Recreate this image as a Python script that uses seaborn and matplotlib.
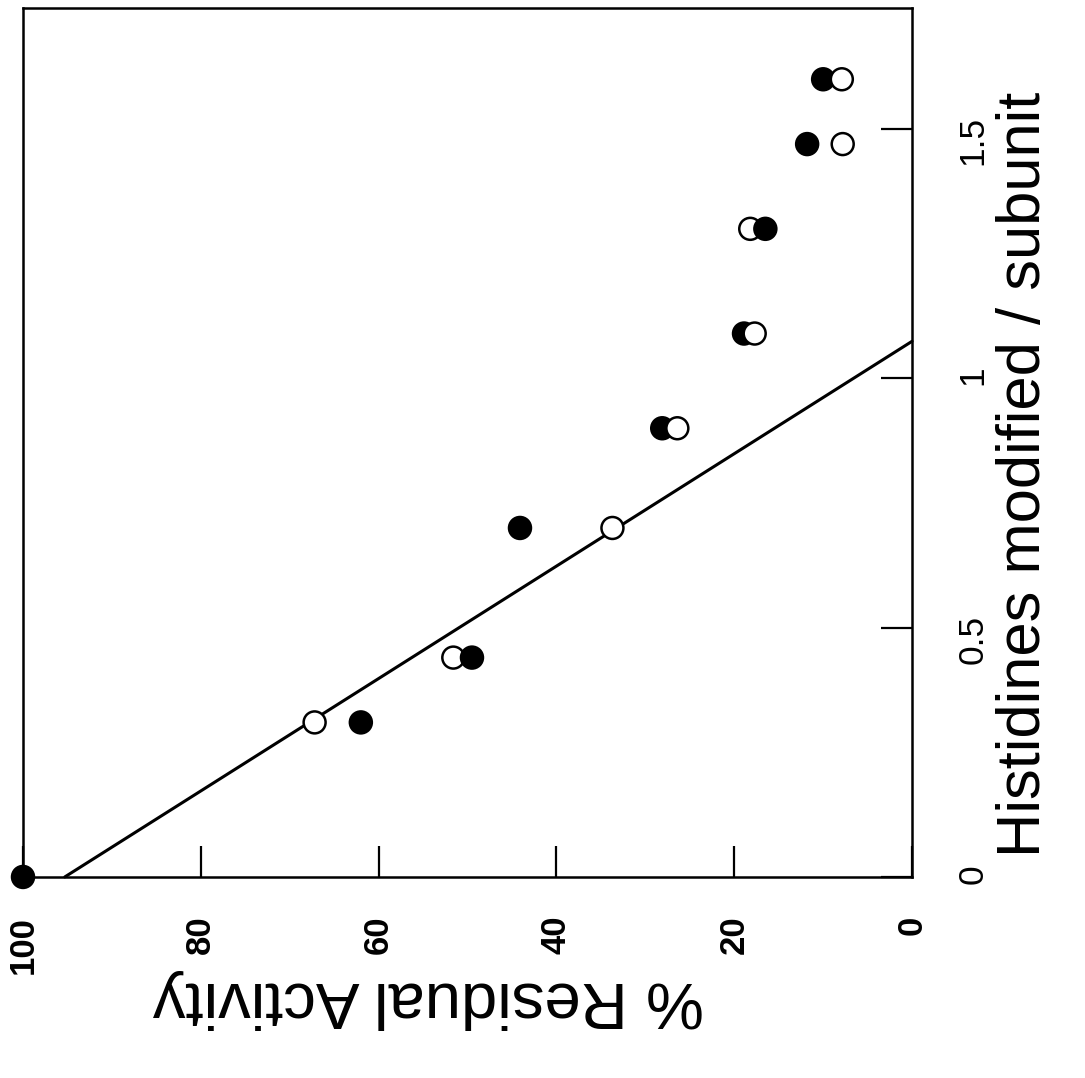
import numpy as np
import pandas as pd
import matplotlib
matplotlib.use("Agg")
import matplotlib.pyplot as plt
import matplotlib.font_manager as fm
import seaborn as sns

filled_his = [0.0, 0.31, 0.44, 0.70, 0.90, 1.09, 1.30, 1.47, 1.60]
filled_act = [100.0, 62.0, 49.5, 44.1, 28.1, 18.9, 16.5, 11.8, 10.0]
open_his = [0.31, 0.44, 0.70, 0.90, 1.09, 1.30, 1.47, 1.60]
open_act = [67.2, 51.6, 33.7, 26.4, 17.7, 18.2, 7.8, 7.9]

# fitted straight line: activity = intercept + slope * histidines
fit_intercept = 95.3
fit_slope = -88.7

act_ticks = [0, 20, 40, 60, 80, 100]
his_ticks = [0, 0.5, 1, 1.5]
his_labels = ["0", "0.5", "1", "1.5"]

df = pd.concat([
    pd.DataFrame({"his": filled_his, "act": filled_act, "kind": "filled"}),
    pd.DataFrame({"his": open_his, "act": open_act, "kind": "open"}),
], ignore_index=True)
# the point further to the right is drawn on top
df = df.sort_values("act", ascending=False).reset_index(drop=True)

his_end = -fit_intercept / fit_slope
fit = pd.DataFrame({"his": [0.0, his_end]})
fit["act"] = fit_intercept + fit_slope * fit["his"]

sns.set_theme(style="white")
names = {f.name for f in fm.fontManager.ttflist}
narrow = "Liberation Sans Narrow" in names
plt.rcParams["font.family"] = ["Liberation Sans", "DejaVu Sans"]
plt.rcParams["text.color"] = "black"
plt.rcParams["axes.labelcolor"] = "black"
nfam = ["Liberation Sans Narrow", "Liberation Sans"] if narrow else ["Liberation Sans"]
nscale = 1.0 if narrow else 0.82

fig = plt.figure(figsize=(10.85, 10.78), dpi=100)
ax = fig.add_axes([0.0212, 0.1865, 0.8194, 0.8061])

sns.lineplot(data=fit, x="act", y="his", color="black", linewidth=2.2,
             sort=False, ax=ax, clip_on=False)
sns.scatterplot(data=df, x="act", y="his", hue="kind",
                palette={"filled": "black", "open": "white"},
                edgecolor="black", linewidth=1.8, s=250, legend=False,
                ax=ax, clip_on=False, zorder=3)

ax.set_xlim(100, 0)
ax.set_ylim(0, 1.743)

for sp in ax.spines.values():
    sp.set_color("black")
    sp.set_linewidth(1.8)

ax.set_xticks(act_ticks)
ax.set_xticklabels([str(t) for t in act_ticks], fontsize=25, fontweight="bold")
ax.yaxis.tick_right()
ax.set_yticks(his_ticks)
ax.set_yticklabels(his_labels, fontsize=31 * nscale, family=nfam)
ax.tick_params(axis="x", direction="in", length=22, width=1.6, pad=28,
               labelrotation=90, colors="black", bottom=True, top=False)
ax.tick_params(axis="y", direction="in", length=22, width=1.6, pad=32,
               labelrotation=90, colors="black", left=False, right=True)

ax.set_xlabel("% Residual Activity", fontsize=47, rotation=180, color="black")
ax.xaxis.set_label_coords(0.456, -0.14)
ax.xaxis.label.set_va("center")

ax.yaxis.set_label_position("right")
ax.set_ylabel("Histidines modified / subunit", fontsize=54 * nscale,
              rotation=90, family=nfam, color="black")
ax.yaxis.set_label_coords(1.127, 0.463)
ax.yaxis.label.set_va("center")
ax.yaxis.label.set_ha("center")

fig.savefig("out.png", dpi=100)
